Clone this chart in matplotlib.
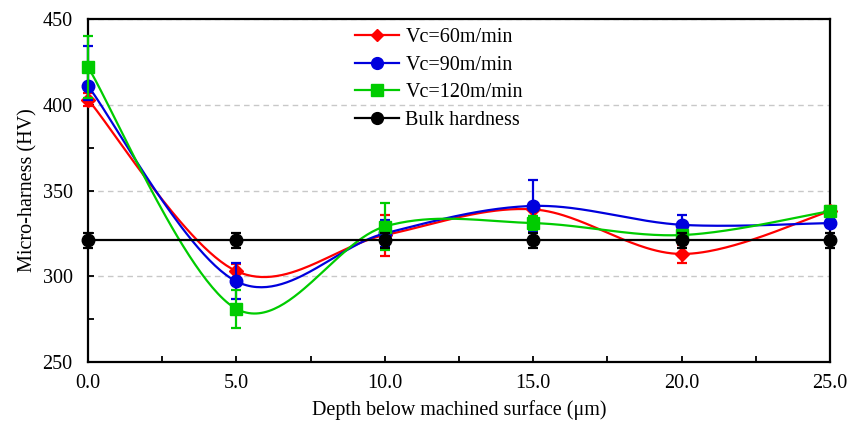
import numpy as np
import matplotlib
matplotlib.use("Agg")
import matplotlib.pyplot as plt
from matplotlib.lines import Line2D
from matplotlib.ticker import MultipleLocator, FormatStrFormatter

plt.rcParams['font.family'] = ['Liberation Serif', 'DejaVu Serif']

# Depth below machined surface (um)
depth = [0.0, 5.0, 10.0, 15.0, 20.0, 25.0]

# Micro-hardness (HV) per cutting speed, with lower / upper error bar lengths
hv_60 = [403, 303, 324, 339, 313, 338]
err_60_lo = [4, 4, 12, 4, 5, 3]
err_60_hi = [4, 4, 12, 4, 5, 3]
hv_90 = [411, 297, 325, 341, 330, 331]
err_90_lo = [8, 10.5, 8, 15, 6, 2]
err_90_hi = [23, 10.5, 8, 15, 6, 2]
hv_120 = [422, 281, 329, 331, 324, 338]
err_120_lo = [18, 11, 13.5, 4, 2, 2]
err_120_hi = [18, 11, 13.5, 4, 2, 2]
hv_bulk = [321, 321, 321, 321, 321, 321]
err_bulk = [4.5, 4.5, 4.5, 4.5, 4.5, 4.5]

labels = ['Vc=60m/min', 'Vc=90m/min', 'Vc=120m/min', 'Bulk hardness']
colors = ['#ff0000', '#0000dd', '#00cc00', '#000000']
markers = ['D', 'o', 's', 'o']
msizes = [7, 9, 8.5, 9]


def smooth(x, y, n=60):
    """Cubic Bezier smoothing through every point (Catmull-Rom style)."""
    x = np.asarray(x, float)
    y = np.asarray(y, float)
    px = np.concatenate([[x[0]], x, [x[-1]]])
    py = np.concatenate([[y[0]], y, [y[-1]]])
    xs, ys = [], []
    t = np.linspace(0, 1, n)
    for i in range(1, len(px) - 2):
        p0 = np.array([px[i], py[i]])
        p3 = np.array([px[i + 1], py[i + 1]])
        p1 = p0 + (np.array([px[i + 1], py[i + 1]]) - np.array([px[i - 1], py[i - 1]])) / 6
        p2 = p3 - (np.array([px[i + 2], py[i + 2]]) - np.array([px[i], py[i]])) / 6
        b = ((1 - t) ** 3)[:, None] * p0 + (3 * (1 - t) ** 2 * t)[:, None] * p1 \
            + (3 * (1 - t) * t ** 2)[:, None] * p2 + (t ** 3)[:, None] * p3
        xs.append(b[:, 0])
        ys.append(b[:, 1])
    return np.concatenate(xs), np.concatenate(ys)


fig = plt.figure(figsize=(8.59, 4.22), dpi=100)
ax = fig.add_axes([88 / 859, 60 / 422, 742 / 859, 343 / 422])

series = [(hv_60, [err_60_lo, err_60_hi]),
          (hv_90, [err_90_lo, err_90_hi]),
          (hv_120, [err_120_lo, err_120_hi]),
          (hv_bulk, [err_bulk, err_bulk])]
handles = []
for k, (vals, errs) in enumerate(series):
    z = 3 + k
    if k < 3:
        sx, sy = smooth(depth, vals)
        ax.plot(sx, sy, color=colors[k], lw=1.6, zorder=z, clip_on=False)
    else:
        ax.plot(depth, vals, color=colors[k], lw=1.6, zorder=z, clip_on=False)
    ax.errorbar(depth, vals, yerr=errs, fmt=markers[k], color=colors[k],
                ms=msizes[k], mec=colors[k], mfc=colors[k], ecolor=colors[k],
                elinewidth=1.6, capsize=3.5, capthick=1.6, zorder=z + 0.5,
                clip_on=False)
    handles.append(Line2D([], [], color=colors[k], lw=1.6, marker=markers[k],
                          ms=msizes[k] - 0.5, mfc=colors[k], mec=colors[k]))

ax.set_xlim(0, 25)
ax.set_ylim(250, 450)
ax.xaxis.set_major_locator(MultipleLocator(5))
ax.xaxis.set_minor_locator(MultipleLocator(2.5))
ax.xaxis.set_major_formatter(FormatStrFormatter('%.1f'))
ax.yaxis.set_major_locator(MultipleLocator(50))
ax.yaxis.set_minor_locator(MultipleLocator(25))

ax.tick_params(which='both', direction='in', length=4, width=1.3,
               labelsize=14.5, top=False, right=False)
ax.tick_params(axis='x', pad=9)
ax.tick_params(axis='y', pad=11)

ax.grid(axis='y', which='major', color='#c8c8c8', ls=(0, (4, 3)), lw=1.0)
ax.set_axisbelow(True)
for s in ax.spines.values():
    s.set_linewidth(1.6)
    s.set_color('black')

ax.set_xlabel('Depth below machined surface (μm)', fontsize=14.5, labelpad=5)
ax.set_ylabel('Micro-harness (HV)', fontsize=14.5, labelpad=4)

leg = fig.legend(handles, labels, loc='upper left',
                 bbox_to_anchor=(355 / 859, 1 - 28 / 422), frameon=False,
                 fontsize=14.5, handlelength=2.2, handletextpad=0.3,
                 labelspacing=0.42, borderpad=0, borderaxespad=0)

fig.savefig('out.png', dpi=100)
